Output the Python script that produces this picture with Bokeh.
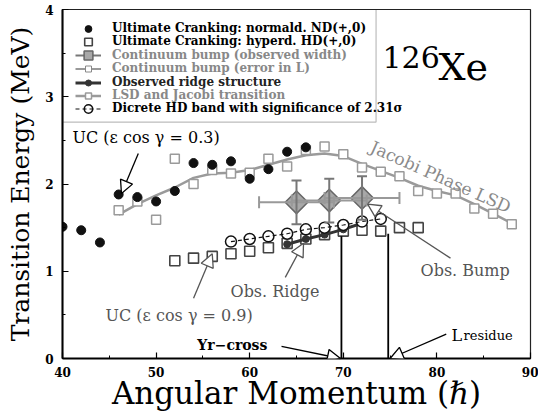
import numpy as np
from bokeh.plotting import figure
from bokeh.models import (Range1d, SingleIntervalTicker, Legend, LegendItem, Label,
                          Arrow, NormalHead, BoxAnnotation, ColumnDataSource)
from bokeh.embed import file_html
from bokeh.resources import INLINE

# ---------------- data ----------------
# Ultimate Cranking: normal-deformed ND(+,0)
nd_L = [40, 42, 44, 46, 48, 50, 52, 54, 56, 58, 60, 62, 64, 66]
nd_E = [1.51, 1.47, 1.33, 1.88, 1.85, 1.80, 1.92, 2.24, 2.22, 2.26, 2.06, 2.17, 2.37, 2.42]

# Ultimate Cranking: hyperdeformed HD(+,0)
hd_L = [52, 54, 56, 58, 60, 62, 64, 66, 68, 70, 72, 74, 76, 78]
hd_E = [1.12, 1.15, 1.17, 1.20, 1.23, 1.27, 1.32, 1.37, 1.42, 1.46, 1.47, 1.46, 1.50, 1.50]

# LSD and Jacobi transition (points and smoothed curve)
lsd_L = [46, 48, 50, 52, 54, 56, 58, 60, 62, 64, 66, 68, 70, 72, 74, 76, 78, 80, 82, 84, 86, 88]
lsd_E = [1.70, 1.80, 1.59, 2.29, 2.00, 2.16, 2.12, 2.13, 2.29, 2.20, 2.39, 2.43, 2.34, 2.19,
         2.14, 2.09, 1.92, 1.89, 1.89, 1.72, 1.66, 1.54]
lsd_curve_E = [1.65, 1.77, 1.87, 1.96, 2.07, 2.12, 2.13, 2.16, 2.22, 2.28, 2.33, 2.35, 2.32, 2.23,
               2.15, 2.07, 1.98, 1.92, 1.87, 1.77, 1.66, 1.55]

# Discrete HD band (2.31 sigma)
disc_L = [58, 60, 62, 64, 66, 68, 70, 72, 74]
disc_E = [1.34, 1.37, 1.40, 1.43, 1.48, 1.50, 1.53, 1.57, 1.60]

# Observed ridge structure
ridge_L = [64, 66, 68, 70, 72]
ridge_E = [1.31, 1.37, 1.42, 1.48, 1.55]

# Continuum bump
bump_L = [65.0, 68.5, 72.0]
bump_E = [1.79, 1.81, 1.84]
bump_dE = [0.25, 0.25, 0.25]
bump_dL = [4.0, 4.0, 4.0]

# Yr-cross and L_residue markers
mark_L = [69.8, 74.8]
mark_base = [0.0, 0.0]
mark_top = [1.40, 1.43]

FONT = "DejaVu Serif"
GRAY = "#9a9a9a"
DGRAY = "#555555"

p = figure(width=538, height=414, x_range=Range1d(40, 90), y_range=Range1d(0, 4),
           output_backend="svg", toolbar_location=None,
           min_border_left=62, min_border_right=8, min_border_top=9, min_border_bottom=56)
p.xgrid.visible = False
p.ygrid.visible = False
p.outline_line_color = "#222222"
p.outline_line_width = 1.2
p.background_fill_color = "white"
p.border_fill_color = "white"

p.xaxis.ticker = SingleIntervalTicker(interval=10, num_minor_ticks=2)
p.yaxis.ticker = SingleIntervalTicker(interval=1, num_minor_ticks=2)
for ax in (p.xaxis[0], p.yaxis[0]):
    ax.axis_line_width = 2
    ax.axis_line_color = "black"
    ax.major_tick_in = 6
    ax.major_tick_out = 0
    ax.minor_tick_in = 3
    ax.minor_tick_out = 0
    ax.major_tick_line_width = 1.2
    ax.minor_tick_line_width = 1.0
    ax.major_label_text_font = FONT
    ax.major_label_text_font_style = "bold"
    ax.major_label_text_font_size = "12px"
    ax.major_label_text_color = "black"
    ax.axis_label_text_font = FONT
    ax.axis_label_text_font_style = "normal"
    ax.axis_label_text_color = "black"

p.xaxis.axis_label = "Angular Momentum (\u210f)"
p.xaxis.axis_label_text_font_size = "31px"
p.xaxis.major_label_standoff = 8
p.xaxis.axis_label_standoff = -5
p.yaxis.axis_label = "Transition Energy (MeV)"
p.yaxis.axis_label_text_font_size = "25px"
p.yaxis.major_label_standoff = 9
p.yaxis.axis_label_standoff = 7

# ---------------- glyphs ----------------
lsd_line = p.line(lsd_L, lsd_curve_E, line_color=GRAY, line_width=2.5)
lsd_sq = p.scatter(lsd_L, lsd_E, marker="square", size=9, line_color=GRAY,
                   fill_color="white", line_width=1.5)
nd_r = p.scatter(nd_L, nd_E, marker="circle", size=9, fill_color="#111111", line_color="#111111")
hd_r = p.scatter(hd_L, hd_E, marker="square", size=10, line_color="#444444",
                 fill_color="white", line_width=1.6)

ridge_line = p.line(ridge_L, ridge_E, line_color="#333333", line_width=3)
ridge_pts = p.scatter(ridge_L, ridge_E, marker="circle", size=7, fill_color="#333333",
                      line_color="#333333")

disc_pts = p.scatter(disc_L, disc_E, marker="circle", size=11, line_color="#111111",
                     fill_color="white", line_width=1.5)
disc_line = p.line(disc_L, disc_E, line_color="#111111", line_dash="4 3", line_width=1.2)

bL = np.array(bump_L); bE = np.array(bump_E)
src = ColumnDataSource(dict(L=bL, E=bE, lo=bE - np.array(bump_dE), hi=bE + np.array(bump_dE),
                            left=bL - np.array(bump_dL), right=bL + np.array(bump_dL)))
bump_sq = p.scatter("L", "E", marker="square", size=6, line_color="#888888",
                    fill_color="white", source=src)
diamond_r = p.scatter("L", "E", marker="square", angle=np.pi / 4, size=16, fill_color="#a8a8a8",
                      line_color="#666666", line_width=1.5, source=src)
hseg = p.segment(x0="left", y0="E", x1="right", y1="E", line_color="#999999", line_width=2,
                 source=src)
p.scatter("left", "E", marker="dash", angle=np.pi / 2, size=12, line_color="#999999",
          line_width=2, source=src)
p.scatter("right", "E", marker="dash", angle=np.pi / 2, size=12, line_color="#999999",
          line_width=2, source=src)
vseg = p.segment(x0="L", y0="lo", x1="L", y1="hi", line_color="#777777", line_width=2, source=src)
p.scatter("L", "lo", marker="dash", size=10, line_color="#777777", line_width=2, source=src)
p.scatter("L", "hi", marker="dash", size=10, line_color="#777777", line_width=2, source=src)

p.segment(x0=mark_L, y0=mark_base, x1=mark_L, y1=mark_top, line_color="black", line_width=1.8)

# ---------------- annotations ----------------
def arrow(xs, ys, xe, ye, color):
    p.add_layout(Arrow(end=NormalHead(size=13, fill_color="white", line_color=color,
                                      line_width=1.3),
                       x_start=xs, y_start=ys, x_end=xe, y_end=ye,
                       line_color=color, line_width=1.3))

arrow(48.1, 2.35, 46.3, 1.89, "black")
arrow(54.0, 0.69, 56.0, 1.20, DGRAY)
arrow(63.8, 0.93, 65.75, 1.32, DGRAY)
arrow(81.45, 1.15, 72.6, 1.77, DGRAY)
arrow(63.4, 0.14, 69.7, 0.0, "black")
arrow(81.0, 0.28, 75.0, 0.0, "black")

def label(x, y, text, size, color="black", style="normal", angle=0.0,
          baseline="middle", align="left"):
    p.add_layout(Label(x=x, y=y, text=text, text_font=FONT, text_font_size=size,
                       text_color=color, text_font_style=style, angle=angle,
                       text_baseline=baseline, text_align=align))

label(41.07, 2.53, "UC (\u03b5 cos \u03b3 = 0.3)", "16px")
label(44.6, 0.49, "UC (\u03b5 cos \u03b3 = 0.9)", "16px", color=DGRAY)
label(57.95, 0.77, "Obs. Ridge", "16px", color=DGRAY)
label(78.25, 1.01, "Obs. Bump", "16px", color=DGRAY)
label(80.4, 2.08, "Jacobi Phase LSD", "17px", color="#8a8a8a", angle=-0.42, align="center")
label(54.4, 0.15, "Yr\u2212cross", "14px", style="bold")
label(81.56, 0.26, "L", "16px", baseline="alphabetic")
label(82.85, 0.26, "residue", "13px", baseline="alphabetic")
label(74.19, 3.45, "126", "30px", baseline="alphabetic")
label(80.17, 3.34, "Xe", "38px", baseline="alphabetic")

# ---------------- legend ----------------
p.add_layout(BoxAnnotation(left=40, right=73.5, top=4, bottom=2.71, fill_alpha=0,
                           line_color="#222222", line_width=1.2))

FRAME_BOTTOM = 358  # page px of frame bottom
FRAME_LEFT = 62
def add_legend(renderers, text, color, cy, gh):
    leg = Legend(items=[LegendItem(label=text, renderers=renderers)],
                 location=(75 - FRAME_LEFT, FRAME_BOTTOM - cy - gh / 2),
                 padding=0, margin=0, spacing=0, border_line_color=None,
                 background_fill_alpha=0, glyph_width=26, glyph_height=gh,
                 label_height=gh, label_standoff=11,
                 label_text_font=FONT, label_text_font_style="bold",
                 label_text_font_size="12px", label_text_color=color)
    p.add_layout(leg)

add_legend([nd_r], "Ultimate Cranking: normald. ND(+,0)", "black", 28, 17)
add_legend([hd_r], "Ultimate Cranking: hyperd. HD(+,0)", "black", 41, 19)
add_legend([vseg, diamond_r], "Continuum bump (observed width)", "#888888", 55, 22)
add_legend([hseg, bump_sq], "Continuum bump (error in L)", "#888888", 68, 15)
add_legend([ridge_line, ridge_pts], "Observed ridge structure", "#222222", 82, 15)
add_legend([lsd_line, lsd_sq], "LSD and Jacobi transition", "#888888", 95, 15)
add_legend([disc_pts, disc_line], "Dicrete HD band with significance of 2.31\u03c3", "black", 108, 21)

open("out.html", "w").write(file_html(p, INLINE))
